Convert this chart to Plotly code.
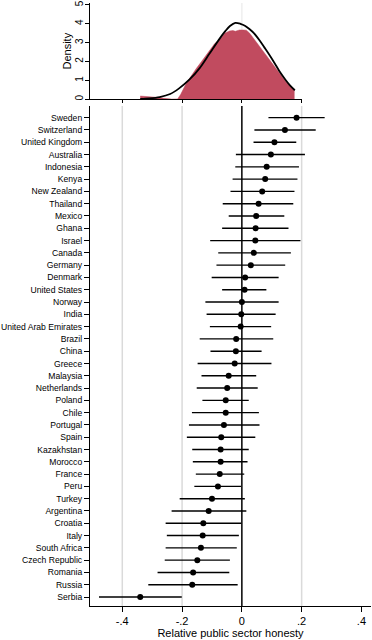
import plotly.graph_objects as go

# ---------------- data ----------------
countries = ["Sweden", "Switzerland", "United Kingdom", "Australia", "Indonesia", "Kenya",
             "New Zealand", "Thailand", "Mexico", "Ghana", "Israel", "Canada", "Germany",
             "Denmark", "United States", "Norway", "India", "United Arab Emirates", "Brazil",
             "China", "Greece", "Malaysia", "Netherlands", "Poland", "Chile", "Portugal",
             "Spain", "Kazakhstan", "Morocco", "France", "Peru", "Turkey", "Argentina",
             "Croatia", "Italy", "South Africa", "Czech Republic", "Romania", "Russia", "Serbia"]

estimate = [0.183, 0.144, 0.109, 0.097, 0.083, 0.078, 0.068, 0.056, 0.048, 0.046,
            0.045, 0.040, 0.030, 0.011, 0.009, 0.000, -0.002, -0.004, -0.019, -0.020,
            -0.024, -0.044, -0.049, -0.054, -0.054, -0.060, -0.069, -0.071, -0.071, -0.074,
            -0.080, -0.100, -0.111, -0.129, -0.131, -0.137, -0.149, -0.163, -0.166, -0.340]

ci_low = [0.089, 0.042, 0.039, -0.020, -0.022, -0.031, -0.038, -0.064, -0.044, -0.066,
          -0.106, -0.079, -0.085, -0.101, -0.066, -0.122, -0.118, -0.107, -0.141, -0.105,
          -0.148, -0.135, -0.151, -0.132, -0.167, -0.177, -0.184, -0.166, -0.164, -0.154,
          -0.159, -0.208, -0.235, -0.255, -0.251, -0.255, -0.258, -0.282, -0.313, -0.478]

ci_high = [0.277, 0.247, 0.182, 0.211, 0.191, 0.186, 0.176, 0.172, 0.142, 0.156,
           0.196, 0.164, 0.145, 0.123, 0.082, 0.123, 0.113, 0.098, 0.105, 0.066,
           0.099, 0.048, 0.053, 0.023, 0.057, 0.059, 0.045, 0.023, 0.019, 0.008,
           -0.003, 0.010, 0.015, -0.002, -0.010, -0.017, -0.040, -0.042, -0.014, -0.201]

# kernel density (filled) of the estimates
kde_x = [-0.340, -0.320, -0.300, -0.280, -0.260, -0.250, -0.235, -0.215, -0.205, -0.186,
         -0.170, -0.152, -0.135, -0.119, -0.105, -0.091, -0.075, -0.058, -0.041, -0.030,
         -0.022, -0.008, 0.005, 0.015, 0.026, 0.042, 0.059, 0.076, 0.093, 0.109,
         0.126, 0.143, 0.160, 0.176]
kde_y = [0.17, 0.16, 0.14, 0.10, 0.05, 0.02, 0.01, 0.02, 0.25, 0.85,
         1.25, 1.64, 2.00, 2.35, 2.65, 2.95, 3.15, 3.50, 3.62, 3.64,
         3.60, 3.67, 3.67, 3.66, 3.50, 3.14, 2.79, 2.44, 2.08, 1.73,
         1.38, 1.02, 0.70, 0.49]

# fitted normal density (black line)
normal_x = [-0.340, -0.310, -0.275, -0.240, -0.210, -0.175, -0.140, -0.110, -0.075, -0.055,
            -0.040, -0.022, -0.005, 0.010, 0.025, 0.040, 0.060, 0.075, 0.090, 0.110,
            0.125, 0.145, 0.160, 0.177]
normal_y = [0.02, 0.05, 0.12, 0.28, 0.58, 1.05, 1.68, 2.38, 3.20, 3.62,
            3.88, 4.05, 4.00, 3.90, 3.72, 3.50, 3.10, 2.75, 2.40, 1.90,
            1.50, 1.05, 0.75, 0.48]

x_ticks = [-0.4, -0.2, 0, 0.2, 0.4]
x_tick_labels = ["-.4", "-.2", "0", ".2", ".4"]
grid_vals = [-0.4, -0.2, 0.2]
ref_val = 0
density_ticks = [0, 1, 2, 3, 4, 5]
density_x_ticks = [-0.4, -0.2, 0, 0.2]

err_plus = [h - e for h, e in zip(ci_high, estimate)]
err_minus = [e - l for e, l in zip(estimate, ci_low)]

FONT = "Liberation Sans, Arial, Helvetica, sans-serif"

fig = go.Figure()

# gridlines + reference line in main panel
for g in grid_vals:
    fig.add_shape(type="line", xref="x", yref="y domain", x0=g, x1=g, y0=0, y1=1,
                  line=dict(color="#DADADA", width=1.5), layer="below")
fig.add_shape(type="line", xref="x", yref="y domain", x0=ref_val, x1=ref_val, y0=0, y1=1,
              line=dict(color="black", width=1.5), layer="below")
# faint reference line in density panel
fig.add_shape(type="line", xref="x2", yref="y2 domain", x0=ref_val, x1=ref_val, y0=0, y1=1,
              line=dict(color="#E6E6E6", width=1), layer="below")

# density panel
fig.add_trace(go.Scatter(x=kde_x, y=kde_y, mode="lines", fill="tozeroy",
                         fillcolor="#C14B5F", line=dict(color="#C14B5F", width=0.5),
                         xaxis="x2", yaxis="y2", hoverinfo="skip", showlegend=False))
fig.add_trace(go.Scatter(x=normal_x, y=normal_y, mode="lines",
                         line=dict(color="black", width=1.8, shape="spline", smoothing=0.8),
                         xaxis="x2", yaxis="y2", hoverinfo="skip", showlegend=False))

# main panel: estimates with confidence intervals
fig.add_trace(go.Scatter(x=estimate, y=countries, mode="markers",
                         marker=dict(color="black", size=6),
                         error_x=dict(type="data", symmetric=False, array=err_plus,
                                      arrayminus=err_minus, color="black",
                                      thickness=1.4, width=0),
                         xaxis="x", yaxis="y", showlegend=False))

n = len(countries)
fig.update_layout(
    width=372, height=640,
    margin=dict(l=90, r=1, t=3, b=34),
    paper_bgcolor="white", plot_bgcolor="white",
    font=dict(family=FONT, color="black"),
    showlegend=False,
    xaxis=dict(domain=[0, 1], range=[-0.508, 0.432], anchor="y",
               tickmode="array", tickvals=x_ticks, ticktext=x_tick_labels,
               ticks="outside", ticklen=5, tickwidth=1, tickcolor="black",
               showline=True, linecolor="black", linewidth=1.2,
               showgrid=False, zeroline=False,
               tickfont=dict(size=11, family=FONT),
               title=dict(text="Relative public sector honesty", font=dict(size=11, family=FONT),
                          standoff=2)),
    yaxis=dict(domain=[0, 0.829], anchor="x", type="category",
               categoryorder="array", categoryarray=countries,
               range=[n - 1 + 0.73, -0.94],
               ticks="outside", ticklen=5, tickwidth=1, tickcolor="black",
               showline=True, linecolor="black", linewidth=1.2,
               showgrid=False, zeroline=False,
               tickfont=dict(size=8.6, family=FONT)),
    xaxis2=dict(domain=[0, 0.7534], range=[-0.508, 0.2], anchor="y2",
                tickmode="array", tickvals=density_x_ticks, showticklabels=False,
                ticks="outside", ticklen=3, tickwidth=1, tickcolor="black",
                showline=True, linecolor="black", linewidth=1,
                showgrid=False, zeroline=False),
    yaxis2=dict(domain=[0.8403, 1], range=[0, 5.1], anchor="x2",
                tickmode="array", tickvals=density_ticks, tickangle=-90,
                ticks="outside", ticklen=4, tickwidth=1, tickcolor="black",
                showline=True, linecolor="black", linewidth=1,
                showgrid=False, zeroline=False, ticklabelstandoff=-2,
                tickfont=dict(size=10, family=FONT),
                title=dict(text="Density", font=dict(size=11, family=FONT), standoff=0)),
)

fig.write_html("out.html", config={"displayModeBar": False},
               post_script="document.body.style.margin='0';document.body.style.padding='0';"
                           "document.documentElement.style.overflow='hidden';")
